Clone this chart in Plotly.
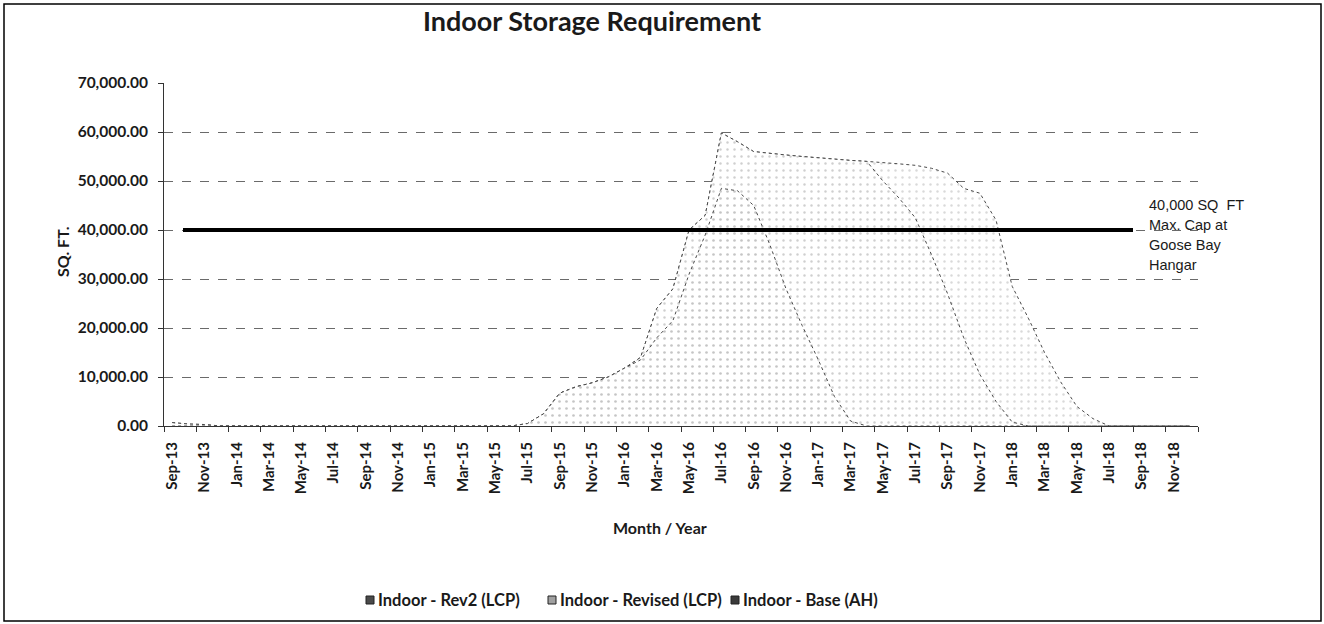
import plotly.graph_objects as go

# ---------------- data ----------------
months = [
    "Sep-13", "Oct-13", "Nov-13", "Dec-13",
    "Jan-14", "Feb-14", "Mar-14", "Apr-14", "May-14", "Jun-14",
    "Jul-14", "Aug-14", "Sep-14", "Oct-14", "Nov-14", "Dec-14",
    "Jan-15", "Feb-15", "Mar-15", "Apr-15", "May-15", "Jun-15",
    "Jul-15", "Aug-15", "Sep-15", "Oct-15", "Nov-15", "Dec-15",
    "Jan-16", "Feb-16", "Mar-16", "Apr-16", "May-16", "Jun-16",
    "Jul-16", "Aug-16", "Sep-16", "Oct-16", "Nov-16", "Dec-16",
    "Jan-17", "Feb-17", "Mar-17", "Apr-17", "May-17", "Jun-17",
    "Jul-17", "Aug-17", "Sep-17", "Oct-17", "Nov-17", "Dec-17",
    "Jan-18", "Feb-18", "Mar-18", "Apr-18", "May-18", "Jun-18",
    "Jul-18", "Aug-18", "Sep-18", "Oct-18", "Nov-18", "Dec-18",
]

revised_lcp = [
    700, 400, 300, 0,
    0, 0, 0, 0, 0, 0,
    0, 0, 0, 0, 0, 0,
    0, 0, 0, 0, 0, 0,
    500, 2500, 6700, 8000, 8800, 10000,
    11800, 14000, 24000, 28000, 40000, 43000,
    59800, 58000, 56000, 55600, 55300, 55000,
    54700, 54400, 54200, 54000, 53800, 53500,
    53200, 52600, 51600, 48500, 47500, 42000,
    28500, 22000, 15000, 9000, 4000, 1500,
    0, 0, 0, 0, 0, 0,
]

base_ah = [
    700, 400, 300, 0,
    0, 0, 0, 0, 0, 0,
    0, 0, 0, 0, 0, 0,
    0, 0, 0, 0, 0, 0,
    500, 2500, 6700, 8000, 8800, 10000,
    11800, 14000, 24000, 28000, 40000, 43000,
    59800, 58000, 56000, 55600, 55300, 55000,
    54700, 54400, 54200, 54000, 50000, 46500,
    42500, 35000, 27000, 18000, 10500, 5000,
    800, 0, 0, 0, 0, 0,
    0, 0, 0, 0, 0, 0,
]

rev2_lcp = [
    0, 0, 0, 0,
    0, 0, 0, 0, 0, 0,
    0, 0, 0, 0, 0, 0,
    0, 0, 0, 0, 0, 0,
    500, 2500, 6700, 8000, 8800, 10000,
    11800, 13500, 18000, 21500, 31000, 39000,
    48500, 48000, 45000, 37000, 28000, 20500,
    13500, 6000, 1000, 0, 0, 0,
    0, 0, 0, 0, 0, 0,
    0, 0, 0, 0, 0, 0,
    0, 0, 0, 0, 0, 0,
]

series_names = ["Indoor - Rev2 (LCP)", "Indoor - Revised (LCP)", "Indoor - Base (AH)"]
legend_colors = ["#4a4a4a", "#a0a0a0", "#3a3a3a"]

cap_value = 40000
cap_lines = ["40,000 SQ\u00a0 FT", "Max. Cap at", "Goose Bay", "Hangar"]

y_ticks = [0, 10000, 20000, 30000, 40000, 50000, 60000, 70000]

# ---------------- figure ----------------
idx = list(range(len(months)))
FONT = "Lato"
TXT = "#1a1a1a"

fig = go.Figure()

area_specs = [
    (revised_lcp, "#b4b4b4", 0.10),
    (base_ah, "#a0a0a0", 0.10),
    (rev2_lcp, "#8c8c8c", 0.12),
]
for vals, fg, sol in area_specs:
    fig.add_trace(go.Scatter(
        x=idx, y=vals, mode="lines", fill="tozeroy",
        fillcolor="white",
        fillpattern=dict(shape=".", fgcolor=fg, bgcolor="white", size=7, solidity=sol),
        line=dict(color="#4a4a4a", width=1, dash="dot"),
        showlegend=False, hoverinfo="skip",
    ))

# tick marks at category boundaries, labels shifted to category centre
tickvals = [i - 0.5 for i in idx[::2]] + [len(months) - 0.5]
ticktext = months[::2] + [""]

fig.update_xaxes(
    range=[-0.5, len(months) - 0.5],
    tickmode="array", tickvals=tickvals, ticktext=ticktext,
    tickangle=-90, ticks="outside", ticklen=5, tickcolor="#333",
    ticklabelshift=8, ticklabelstandoff=4,
    tickfont=dict(family=FONT, size=15, color=TXT, weight="bold"),
    showline=True, linecolor="#333", linewidth=1,
    showgrid=False, zeroline=False,
)
fig.update_yaxes(
    range=[0, 70000], tickmode="array", tickvals=y_ticks,
    tickformat=",.2f", ticks="outside", ticklen=5, tickcolor="#333",
    ticklabelstandoff=7,
    tickfont=dict(family=FONT, size=15.5, color=TXT, weight="bold"),
    showline=True, linecolor="#333", linewidth=1,
    showgrid=True, gridcolor="#6a6a6a", gridwidth=1, griddash="dash",
    zeroline=False,
)

L, R, T, B = 164, 126, 83, 198
W, H = 1324, 624
pw, ph = W - L - R, H - T - B


def px(xp):
    return (xp - L) / pw


def py(yp):
    return (H - B - yp) / ph


annotations = [
    dict(text="<b>Month / Year</b>", xref="paper", yref="paper",
         x=px(660), y=py(527), xanchor="center", yanchor="middle",
         showarrow=False, font=dict(family=FONT, size=16, color=TXT)),
    dict(text="<b>SQ. FT.</b>", xref="paper", yref="paper",
         x=px(62), y=py(252), xanchor="center", yanchor="middle",
         textangle=-90, showarrow=False, font=dict(family=FONT, size=16, color=TXT)),
]
for k, line in enumerate(cap_lines):
    annotations.append(dict(
        text=line, xref="paper", yref="paper", x=px(1147), y=py(205 + 20 * k),
        xanchor="left", yanchor="middle", align="left", showarrow=False,
        font=dict(family="Liberation Sans", size=14.5, color=TXT),
    ))

shapes = [
    dict(type="line", xref="paper", yref="y", x0=px(183), x1=px(1133),
         y0=cap_value, y1=cap_value, line=dict(color="black", width=4)),
    dict(type="rect", xref="paper", yref="paper", x0=px(4), x1=px(1321),
         y0=py(621), y1=py(4), line=dict(color="black", width=1.5),
         fillcolor="rgba(0,0,0,0)"),
]

# legend (swatch + label), laid out like the original's bottom legend
legend_x = [370, 552, 735]
for name, col, lx in zip(series_names, legend_colors, legend_x):
    shapes.append(dict(
        type="rect", xref="paper", yref="paper",
        x0=px(lx - 4), x1=px(lx + 4), y0=py(604), y1=py(596),
        fillcolor=col, line=dict(color="#222", width=1),
    ))
    annotations.append(dict(
        text="<b>" + name + "</b>", xref="paper", yref="paper",
        x=px(lx + 6), y=py(600), xanchor="left", yanchor="middle",
        showarrow=False, font=dict(family=FONT, size=16.5, color=TXT),
    ))

fig.update_layout(
    width=W, height=H, autosize=False,
    margin=dict(l=L, r=R, t=T, b=B, pad=0),
    paper_bgcolor="white", plot_bgcolor="white",
    title=dict(
        text="<b>Indoor Storage Requirement</b>",
        x=592 / W, xref="container", xanchor="center",
        y=1 - 22 / H, yref="container", yanchor="middle",
        font=dict(family=FONT, size=27, color=TXT),
    ),
    showlegend=False,
    shapes=shapes,
    annotations=annotations,
)

fig.write_html(
    "out.html",
    config={"displayModeBar": False},
    post_script="document.body.style.margin='0';document.body.style.padding='0';"
                "document.documentElement.style.overflow='hidden';",
)
